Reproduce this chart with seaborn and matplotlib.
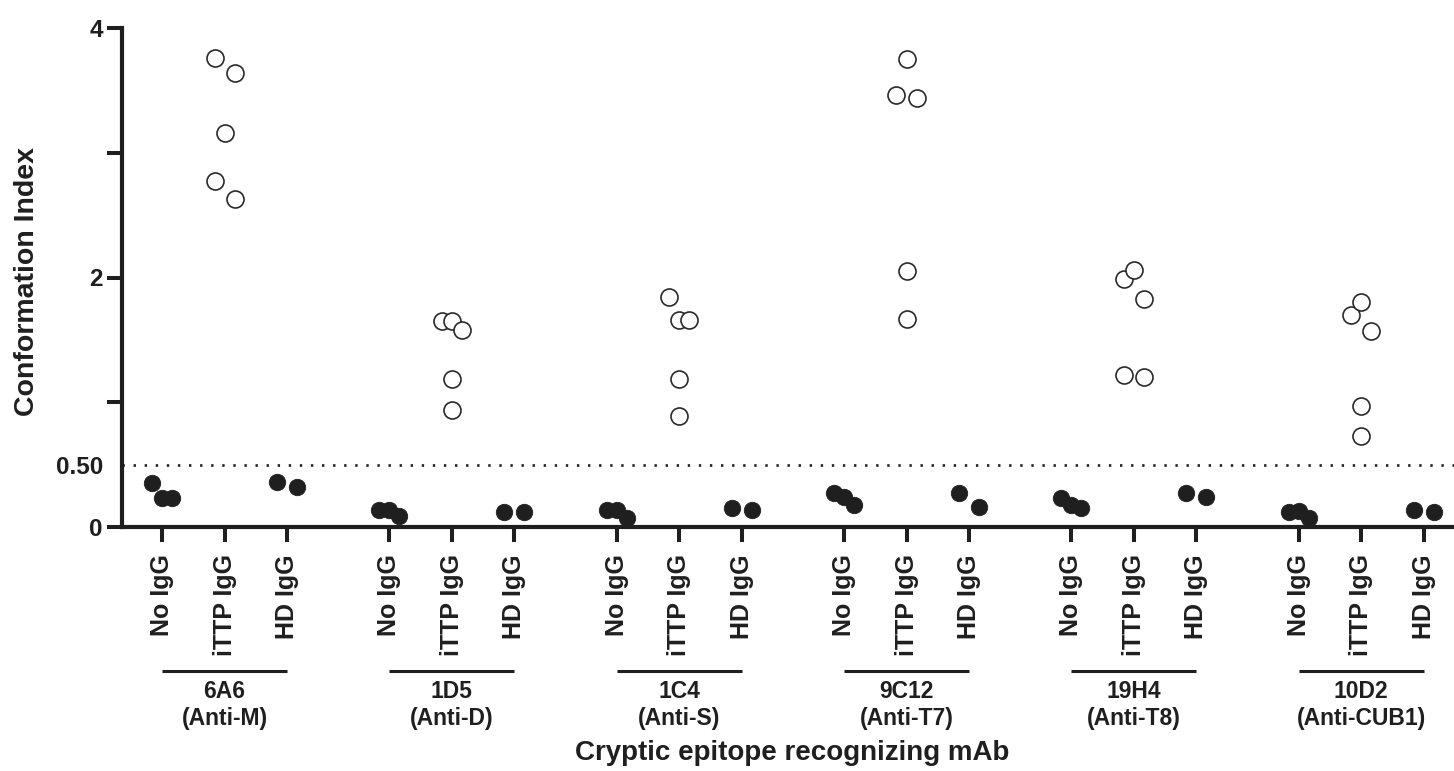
import numpy as np
import pandas as pd
import matplotlib
matplotlib.use("Agg")
import matplotlib.pyplot as plt
import seaborn as sns
from matplotlib.transforms import blended_transform_factory

# ---- data -----------------------------------------------------------------
antibodies = ["6A6", "1D5", "1C4", "9C12", "19H4", "10D2"]
epitopes = ["(Anti-M)", "(Anti-D)", "(Anti-S)", "(Anti-T7)", "(Anti-T8)", "(Anti-CUB1)"]
conditions = ["No IgG", "iTTP IgG", "HD IgG"]

no_igg = [
    [0.35, 0.23, 0.23],
    [0.14, 0.14, 0.09],
    [0.14, 0.14, 0.07],
    [0.27, 0.24, 0.18],
    [0.23, 0.18, 0.15],
    [0.12, 0.13, 0.07],
]
ittp_igg = [
    [3.76, 3.64, 3.16, 2.77, 2.63],
    [1.65, 1.65, 1.58, 1.19, 0.94],
    [1.84, 1.66, 1.66, 1.19, 0.89],
    [3.75, 3.46, 3.44, 2.05, 1.67],
    [1.99, 2.06, 1.83, 1.22, 1.20],
    [1.70, 1.80, 1.57, 0.97, 0.73],
]
hd_igg = [
    [0.36, 0.32],
    [0.12, 0.12],
    [0.15, 0.14],
    [0.27, 0.16],
    [0.27, 0.24],
    [0.14, 0.12],
]
cutoff = 0.50

y_ticks = [0, 0.5, 1, 2, 3, 4]
y_ticklabels = ["0", "0.50", "", "2", "", "4"]

# ---- layout helpers ---------------------------------------------------------
GROUP_STRIDE = 3.635   # distance between the first columns of neighbouring groups
SPREAD = 0.16          # horizontal half-width for points that sit close together
LINK = 0.2             # values closer than this are spread side by side


def spread_offsets(values):
    """Scatter-dot style: neighbours with similar values are placed side by side."""
    vals = np.asarray(values, dtype=float)
    order = np.argsort(-vals, kind="stable")
    clusters, current = [], [order[0]]
    for a, b in zip(order[:-1], order[1:]):
        if vals[a] - vals[b] < LINK:
            current.append(b)
        else:
            clusters.append(current)
            current = [b]
    clusters.append(current)
    offsets = np.zeros(len(vals))
    for c in clusters:
        c = sorted(c)
        if len(c) > 1:
            offsets[c] = np.linspace(-SPREAD, SPREAD, len(c))
    return offsets


rows = []
series = [no_igg, ittp_igg, hd_igg]
for g, ab in enumerate(antibodies):
    for c, cond in enumerate(conditions):
        vals = series[c][g]
        offs = spread_offsets(vals)
        base = g * GROUP_STRIDE + c
        for v, o in zip(vals, offs):
            rows.append({"antibody": ab, "condition": cond, "value": v,
                         "pos": base + o, "open": cond == "iTTP IgG"})
df = pd.DataFrame(rows)

# ---- figure -----------------------------------------------------------------
sns.set_theme(style="ticks")
plt.rcParams["font.family"] = ["Liberation Sans", "DejaVu Sans"]
plt.rcParams["font.weight"] = "bold"
INK = "#1f1f1f"

W, H = 1454, 771
fig = plt.figure(figsize=(W / 100, H / 100), dpi=100)
ax = fig.add_axes([122 / W, (H - 527) / H, (W - 122) / W, (527 - 28) / H])

ax.axhline(cutoff, color=INK, lw=1.9, linestyle=(0, (0.9, 3.3)), zorder=1)

sns.scatterplot(data=df[~df["open"]], x="pos", y="value", ax=ax, marker="o",
                s=140, color=INK, edgecolor=INK, linewidth=0.6, zorder=3,
                legend=False)
sns.scatterplot(data=df[df["open"]], x="pos", y="value", ax=ax, marker="o",
                s=150, color="white", edgecolor="#2a2a2a", linewidth=1.2,
                zorder=3, legend=False)

ax.set_ylim(0, 4)
ax.set_xlim(-0.64, 20.66)

xpos = [g * GROUP_STRIDE + c for g in range(len(antibodies)) for c in range(len(conditions))]
xlab = [cond for _ in antibodies for cond in conditions]
ax.set_xticks(xpos)
ax.set_xticklabels(xlab, rotation=90, fontsize=18, fontweight="bold", color=INK)
ax.set_yticks(y_ticks)
ax.set_yticklabels(y_ticklabels, fontsize=17.5, fontweight="bold", color=INK)
ax.tick_params(axis="x", length=10.8, width=2.9, pad=9, color=INK)
ax.tick_params(axis="y", length=10.8, width=2.9, pad=3, color=INK)
ax.yaxis.get_major_ticks()[1].tick1line.set_visible(False)
ax.set_xlabel("")
ax.set_ylabel("")

sns.despine(ax=ax)
for side in ("left", "bottom"):
    ax.spines[side].set_linewidth(3.0)
    ax.spines[side].set_color(INK)

# group brackets and antibody names under the tick labels
trans = blended_transform_factory(ax.transData, fig.transFigure)
for g, (ab, ep) in enumerate(zip(antibodies, epitopes)):
    x0 = g * GROUP_STRIDE
    ax.plot([x0, x0 + 2], [(H - 671) / H] * 2, transform=trans, color=INK,
            lw=2.2, clip_on=False, solid_capstyle="butt")
    ax.text(x0 + 1, (H - 680) / H, f"{ab}\n{ep}", transform=trans,
            ha="center", va="top", fontsize=16.5, fontweight="bold",
            color=INK, linespacing=1.22)

fig.text(792 / W, 11 / H, "Cryptic epitope recognizing mAb", ha="center",
         va="baseline", fontsize=20, fontweight="bold", color=INK)
fig.text(27.5 / W, (H - 281) / H, "Conformation Index", rotation=90,
         ha="center", va="center", fontsize=20.5, fontweight="bold", color=INK)

fig.savefig("out.png", dpi=100, facecolor="white")
